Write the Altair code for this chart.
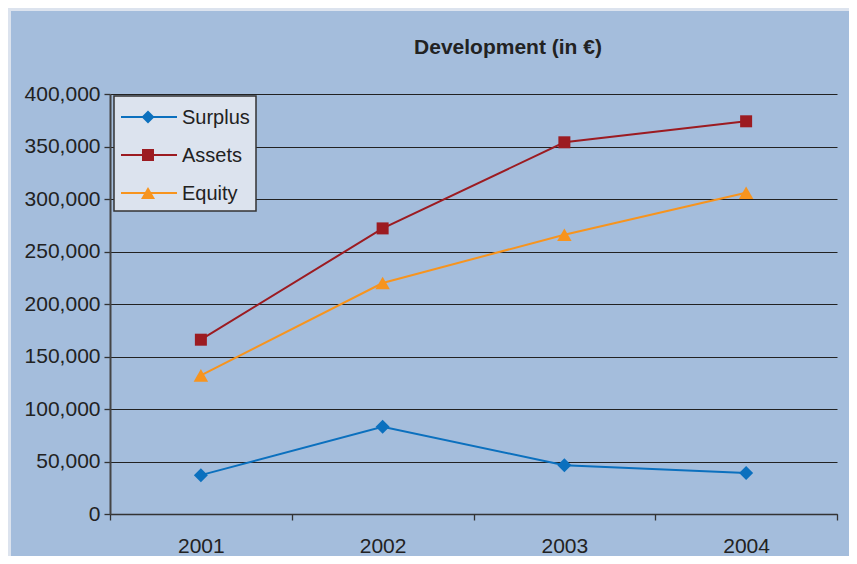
import altair as alt
import pandas as pd

years = ["2001", "2002", "2003", "2004"]
series = ["Surplus", "Assets", "Equity"]
surplus = [37000, 83000, 46500, 39000]
assets = [166000, 272000, 354000, 374000]
equity = [132000, 220000, 266000, 306000]
colors = ["#0b70be", "#9c1b21", "#f7941e"]
shapes = ["diamond", "square", "triangle-up"]
sizes = [196, 144, 210]
legend_sizes = [169, 144, 196]
y_ticks = [0, 50000, 100000, 150000, 200000, 250000, 300000, 350000, 400000]

rows = []
for name, vals in zip(series, [surplus, assets, equity]):
    for yr, v in zip(years, vals):
        rows.append({"Year": yr, "Series": name, "Value": v})
df = pd.DataFrame(rows)

FONT = "Liberation Sans"
TXT = "#222222"

x_enc = alt.X("Year:O", sort=years,
              scale=alt.Scale(paddingInner=0, paddingOuter=0),
              axis=alt.Axis(title=None, labelAngle=0, tickBand="extent", grid=False,
                            labelFontSize=21, labelFont=FONT, labelColor=TXT,
                            labelPadding=15, tickSize=6, tickColor="#333333",
                            tickWidth=1.3, domainColor="#333333", domainWidth=1.3))
y_enc = alt.Y("Value:Q", scale=alt.Scale(domain=[0, 400000], nice=False),
              axis=alt.Axis(title=None, values=y_ticks, format=",.0f", grid=True,
                            gridColor="#222222", gridWidth=1.2,
                            labelFontSize=21, labelFont=FONT, labelColor=TXT,
                            labelPadding=4, tickSize=6, tickColor="#333333",
                            tickWidth=1.3, domainColor="#444444", domainWidth=2))

base = alt.Chart(df)

lines = base.mark_line(strokeWidth=2).encode(
    x=x_enc, y=y_enc,
    color=alt.Color("Series:N", scale=alt.Scale(domain=series, range=colors),
                    sort=series, legend=None))

point_layers = []
for name, shp, sz, col in zip(series, shapes, sizes, colors):
    point_layers.append(
        base.transform_filter(alt.datum.Series == name).mark_point(
            filled=True, opacity=1, shape=shp, size=sz, color=col
        ).encode(x=x_enc, y=y_enc)
    )

# Legend box (drawn with marks, positioned in the plot's pixel space)
legend_layers = [
    alt.Chart().mark_rect(fill="#dce3ee", stroke="#333333", strokeWidth=1.5).encode(
        x=alt.value(4), x2=alt.value(146), y=alt.value(2), y2=alt.value(117))
]
for i, (name, shp, sz, col) in enumerate(zip(series, shapes, legend_sizes, colors)):
    ry = 23 + 38 * i
    legend_layers.append(alt.Chart().mark_rule(color=col, strokeWidth=2).encode(
        x=alt.value(11), x2=alt.value(67), y=alt.value(ry)))
    legend_layers.append(alt.Chart().mark_point(
        filled=True, opacity=1, shape=shp, size=sz, color=col).encode(
        x=alt.value(38), y=alt.value(ry)))
    legend_layers.append(alt.Chart().mark_text(
        fontSize=20, font=FONT, color=TXT, align="left", baseline="middle").encode(
        x=alt.value(72), y=alt.value(ry + 1), text=alt.value(name)))

strip_left = alt.Chart().mark_rect(color="#dce3ee").encode(
    x=alt.value(-102), x2=alt.value(-99), y=alt.value(-86), y2=alt.value(462))
strip_top = alt.Chart().mark_rect(color="#dce3ee").encode(
    x=alt.value(-102), x2=alt.value(739), y=alt.value(-86), y2=alt.value(-83))

title = alt.Chart().mark_text(fontSize=21, fontWeight="bold", font=FONT, color=TXT,
                              baseline="middle", align="center").encode(
    x=alt.value(398), y=alt.value(-46), text=alt.value("Development (in €)"))

chart = alt.layer(strip_left, strip_top, title, lines, *point_layers, *legend_layers).properties(
    width=727, height=420,
    autosize=alt.AutoSizeParams(type="none"),
    padding={"left": 102, "top": 86, "right": 12, "bottom": 42},
    background="#a4bddc",
).configure_view(strokeWidth=0)

chart.save("out.html", embed_options={"renderer": "svg", "actions": False})
